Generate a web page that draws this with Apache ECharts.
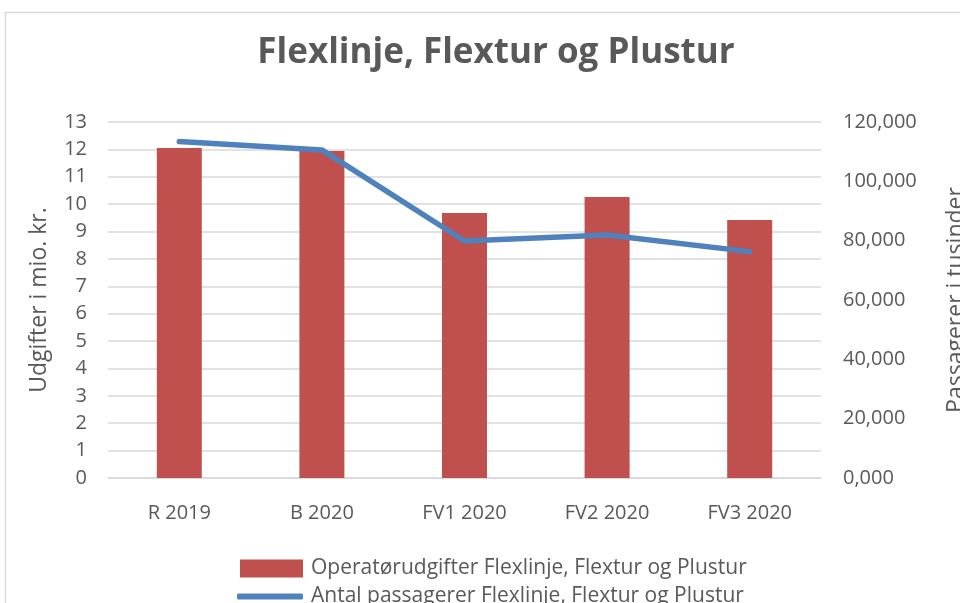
<!DOCTYPE html>
<html>
<head>
<meta charset="utf-8">
<script src="https://cdn.jsdelivr.net/npm/echarts@6/dist/echarts.min.js"></script>
<style>
  html, body { margin: 0; padding: 0; background: #fff; }
  #chart { width: 960px; height: 603px; }
</style>
</head>
<body>
<div id="chart"></div>
<script>
  // kategorier og serier
  const categories = ['R 2019', 'B 2020', 'FV1 2020', 'FV2 2020', 'FV3 2020']
  const udgifter = [12.05, 11.94, 9.68, 10.26, 9.42]
  const passagerer = [113400, 110600, 79900, 81900, 76300]
  const barName = 'Operatørudgifter Flexlinje, Flextur og Plustur'
  const lineName = 'Antal passagerer Flexlinje, Flextur og Plustur'

  const textColor = '#595959'
  const font = 'Open Sans'

  const chart = echarts.init(document.getElementById('chart'))
  chart.setOption({
    animation: false,
    textStyle: { fontFamily: font, color: textColor },
    title: {
      text: 'Flexlinje, Flextur og Plustur',
      left: 491,
      textAlign: 'center',
      top: 31,
      textStyle: { fontFamily: font, fontSize: 35, fontWeight: 'bold', color: textColor }
    },
    graphic: [{
      type: 'rect',
      shape: { x: 5.5, y: 12.5, width: 1000, height: 700 },
      style: { fill: 'none', stroke: '#d9d9d9', lineWidth: 1.5 },
      silent: true
    }],
    legend: [
      {
        left: 240,
        top: 558,
        padding: 0,
        itemWidth: 63,
        itemHeight: 18,
        itemGap: 6,
        textStyle: { fontFamily: font, fontSize: 21, color: textColor, padding: [0, 0, 0, 3] },
        data: [{ name: barName, icon: 'rect' }]
      },
      {
        left: 237,
        top: 586,
        padding: 0,
        itemWidth: 66,
        itemHeight: 6,
        itemGap: 6,
        textStyle: { fontFamily: font, fontSize: 21, color: textColor, padding: [0, 0, 0, 3] },
        data: [{ name: lineName, icon: 'roundRect' }]
      }
    ],
    grid: { left: 108, right: 139, top: 122, bottom: 125, containLabel: false, outerBoundsMode: 'none' },
    xAxis: {
      type: 'category',
      data: categories,
      axisLine: { lineStyle: { color: '#d9d9d9', width: 1.5 } },
      axisTick: { show: false },
      axisLabel: { fontSize: 20, color: textColor, margin: 25, fontFamily: font }
    },
    yAxis: [
      {
        type: 'value',
        min: 0,
        max: 13,
        interval: 1,
        name: 'Udgifter i mio. kr.',
        nameLocation: 'middle',
        nameGap: 57,
        nameTextStyle: { fontSize: 23, color: textColor, fontFamily: font },
        axisLabel: { fontSize: 20, color: textColor, margin: 21, fontFamily: font },
        splitLine: { lineStyle: { color: '#d9d9d9', width: 1.5 } }
      },
      {
        type: 'value',
        min: 0,
        max: 120000,
        interval: 20000,
        name: 'Passagerer i tusinder',
        nameLocation: 'middle',
        nameGap: 124,
        nameRotate: 90,
        nameTextStyle: { fontSize: 23, color: textColor, fontFamily: font },
        axisLabel: {
          fontSize: 20,
          color: textColor,
          margin: 22,
          fontFamily: font,
          formatter: v => (v / 1000).toFixed(3).replace('.', ',')
        },
        splitLine: { show: false }
      }
    ],
    series: [
      {
        name: barName,
        type: 'bar',
        yAxisIndex: 0,
        barWidth: 45,
        itemStyle: { color: '#c0504d' },
        data: udgifter
      },
      {
        name: lineName,
        type: 'line',
        yAxisIndex: 1,
        showSymbol: false,
        symbol: 'none',
        lineStyle: { color: '#4f81bd', width: 5.5, cap: 'round', join: 'round' },
        itemStyle: { color: '#4f81bd' },
        data: passagerer
      }
    ]
  })
</script>
</body>
</html>
